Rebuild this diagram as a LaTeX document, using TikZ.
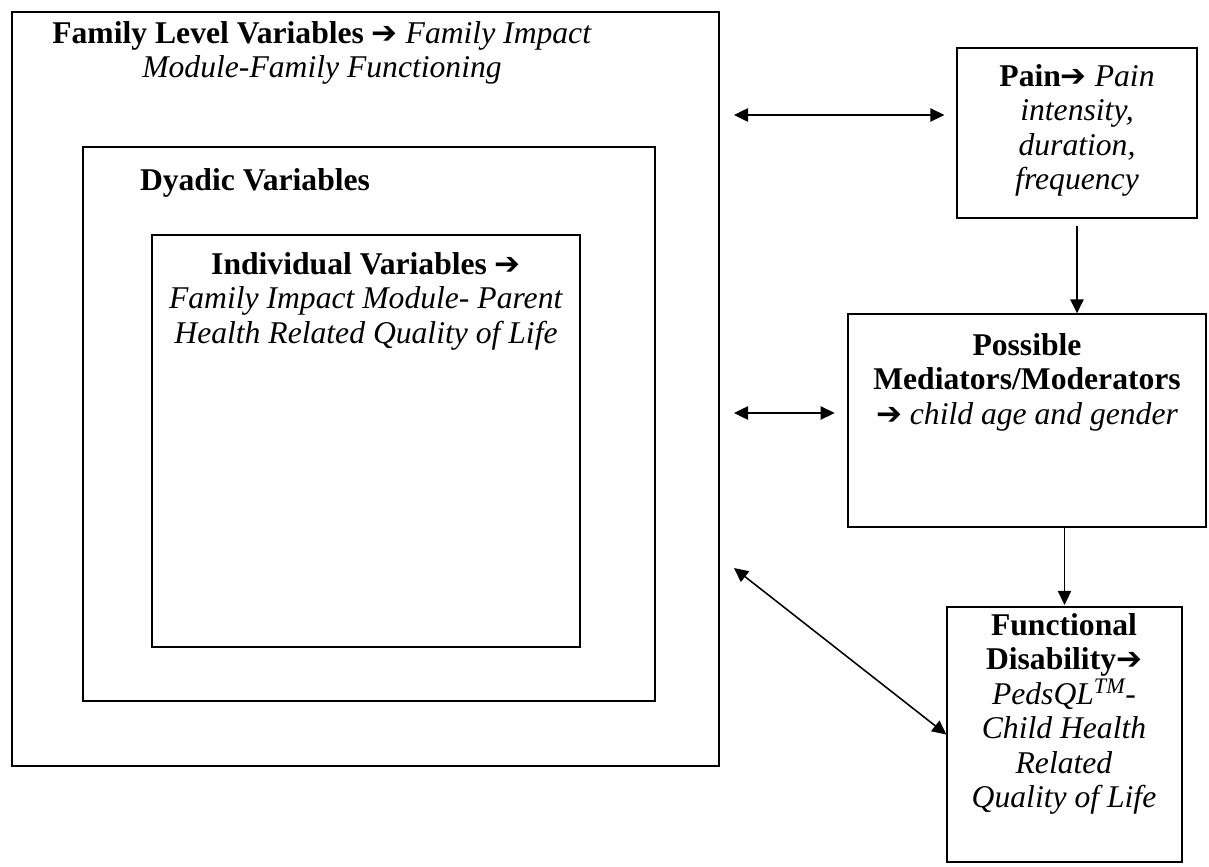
\documentclass[tikz,border=0pt]{standalone}
\usepackage{fontspec}
\setmainfont{Liberation Serif}
\newfontfamily\symfont{DejaVu Sans}
\usepackage{tikz}
\usetikzlibrary{arrows.meta}

\newcommand{\thickarr}{{\symfont\fontsize{22}{24.5}\selectfont ➔}}

\begin{document}
\begin{tikzpicture}[x=0.025cm, y=-0.025cm,
    box/.style={draw, line width=0.9pt, inner sep=0pt},
    txt/.style={align=center, inner sep=0pt, anchor=north, font=\fontsize{22.5}{24.5}\selectfont},
    link/.style={line width=1.1pt, -{Triangle[length=10pt, width=9.5pt]}},
    dbl/.style={line width=1.1pt, {Triangle[length=10pt, width=9.5pt]}-{Triangle[length=10pt, width=9.5pt]}}]
    \useasboundingbox (0,0) rectangle (1209,867);

    % Nested boxes on the left
    \node[box, minimum width=17.675cm, minimum height=18.85cm] (family) at (365.5,389) {};
    \node[box, minimum width=14.3cm, minimum height=13.85cm] (dyadic) at (369,424) {};
    \node[box, minimum width=10.7cm, minimum height=10.3cm] (indiv) at (366,441) {};

    % Boxes on the right
    \node[box, minimum width=6cm, minimum height=4.25cm] (pain) at (1077,133) {};
    \node[box, minimum width=8.95cm, minimum height=5.325cm] (med) at (1027,420.5) {};
    \node[box, minimum width=5.875cm, minimum height=6.375cm] (func) at (1064.5,734.5) {};

    % Texts
    \node[txt] (familytxt) at (322,21) {\textbf{Family Level Variables} \thickarr\ \textit{Family Impact}\\ \textit{Module-Family Functioning}};
    \node[txt] (dyadictxt) at (255,168) {\textbf{Dyadic Variables}};
    \node[txt] (indivtxt) at (366,252) {\textbf{Individual Variables} \thickarr\\ \textit{Family Impact Module- Parent}\\ \textit{Health Related Quality of Life}};
    \node[txt] (paintxt) at (1077,64) {\textbf{Pain}\thickarr\ \textit{Pain}\\ \textit{intensity,}\\ \textit{duration,}\\ \textit{frequency}};
    \node[txt] (medtxt) at (1027,333) {\textbf{Possible}\\ \textbf{Mediators/Moderators}\\ \thickarr\ \textit{child age and gender}};
    \node[txt] (functxt) at (1064,613) {\textbf{Functional}\\ \textbf{Disability}\thickarr\\ \textit{PedsQL\textsuperscript{TM}-}\\ \textit{Child Health}\\ \textit{Related}\\ \textit{Quality of Life}};

    % Free ends of the arrows next to the outer box
    \coordinate (painend) at (734,115);
    \coordinate (medend) at (734,413);
    \coordinate (funcend) at (734,568);

    % Arrows
    \draw[dbl, shorten >=8.5pt] (painend) -- (painend -| pain.west);
    \draw[dbl, shorten >=9pt] (medend) -- (medend -| med.west);
    \draw[dbl] (funcend) -- (func.west);
    \draw[link, shorten <=5pt] (pain.south) -- (pain.south |- med.north);
    \draw[link, shorten >=1pt] (med.south -| func.north) -- (func.north);
\end{tikzpicture}
\end{document}
